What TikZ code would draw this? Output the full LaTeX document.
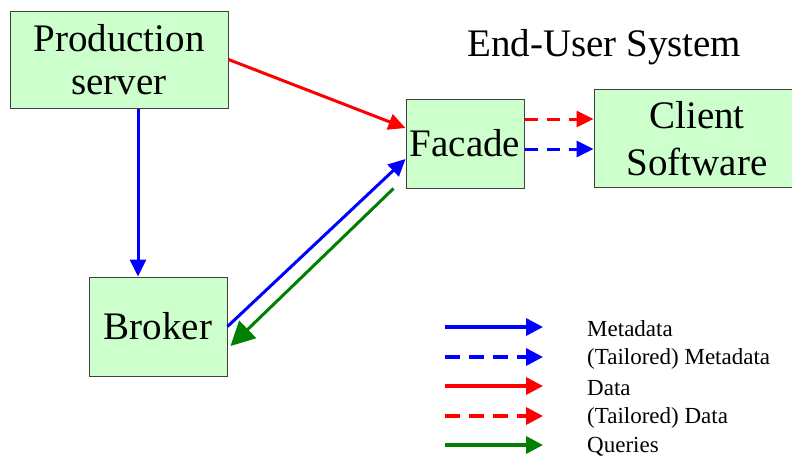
\documentclass[tikz,border=0pt]{standalone}
\usepackage{fontspec}
\setmainfont{Liberation Serif}
\usetikzlibrary{arrows.meta}
\definecolor{boxfill}{HTML}{CCFFCC}
\definecolor{boxline}{HTML}{404040}
\definecolor{qgreen}{HTML}{008000}
\tikzset{
  box/.style={draw=boxline, line width=1pt, fill=boxfill, inner sep=0pt,
    align=center, font=\fontsize{39}{43}\selectfont},
  flow/.style={line width=3pt, -{Triangle[length=17pt,width=16pt]}},
  bigflow/.style={line width=3pt, -{Triangle[length=24pt,width=24pt]}},
  dashflow/.style={flow, dash pattern=on 13pt off 9pt},
  legline/.style={line width=3.5pt, -{Triangle[length=17pt,width=17pt]}},
  legdash/.style={legline, dash pattern=on 15pt off 9pt},
  legtext/.style={anchor=west, inner sep=0pt, font=\fontsize{23}{27}\selectfont}
}
\begin{document}
\begin{tikzpicture}[x=1pt, y=-1pt]
\useasboundingbox (0,0) rectangle (792,459);

% components
\node[box, minimum width=218pt, minimum height=97pt] (prod) at (119,59.5) {Production\\server};
\node[box, minimum width=118pt, minimum height=89pt] (facade) at (465,143.5) {Facade};
\node[box, minimum width=206pt, minimum height=98pt, font=\fontsize{39}{47}\selectfont, text depth=-4pt] (client) at (697,138) {Client\\Software};
\node[box, minimum width=138pt, minimum height=99pt] (broker) at (158,326.5) {Broker};
\node[anchor=base west, inner sep=0pt, font=\fontsize{39}{44}\selectfont] (title) at (467,56) {End-User System};

% flows between components
\draw[flow, red] (prod.east) -- ([yshift=15.5pt]facade.west);
\draw[flow, blue] ([xshift=19pt]prod.south) -- ([xshift=19pt]prod.south |- broker.north);
\draw[flow, blue] (broker.east) -- ([yshift=-15.5pt]facade.west);
\draw[bigflow, qgreen] ([xshift=-12pt]facade.south west) -- ([xshift=3pt,yshift=-19.5pt]broker.east);
\draw[dashflow, red] ([yshift=24.5pt]facade.east) -- ([yshift=24.5pt]facade.east -| client.west);
\draw[dashflow, blue] ([yshift=-5.5pt]facade.east) -- ([yshift=-5.5pt]facade.east -| client.west);

% legend
\foreach \i/\yy in {1/327, 2/357, 3/386, 4/416, 5/445} {
  \coordinate (ls\i) at (445,\yy);
  \coordinate (le\i) at (543,\yy);
}
\draw[legline, blue] (ls1) -- (le1);
\draw[legdash, blue] (ls2) -- (le2);
\draw[legline, red] (ls3) -- (le3);
\draw[legdash, red] (ls4) -- (le4);
\draw[legline, qgreen] (ls5) -- (le5);
\node[legtext] (lt1) at (587,329) {Metadata};
\node[legtext] (lt2) at (587,359) {(Tailored) Metadata};
\node[legtext] (lt3) at (587,388) {Data};
\node[legtext] (lt4) at (587,418) {(Tailored) Data};
\node[legtext] (lt5) at (587,447) {Queries};
\end{tikzpicture}
\end{document}
